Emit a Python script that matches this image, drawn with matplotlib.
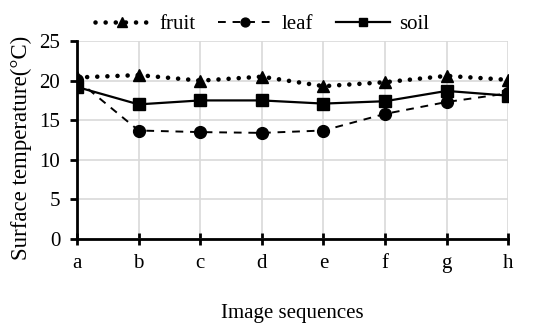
import matplotlib
matplotlib.use("Agg")
import matplotlib.pyplot as plt

categories = ["a", "b", "c", "d", "e", "f", "g", "h"]
fruit = [20.4, 20.7, 20.0, 20.5, 19.3, 19.8, 20.6, 20.1]
leaf = [20.1, 13.7, 13.5, 13.4, 13.7, 15.8, 17.3, 18.4]
soil = [19.2, 17.0, 17.5, 17.5, 17.1, 17.4, 18.7, 18.1]
yticks = [0, 5, 10, 15, 20, 25]

plt.rcParams['font.family'] = ['Liberation Serif', 'DejaVu Serif']
fig = plt.figure(figsize=(5.5, 3.31), dpi=100)
ax = fig.add_axes([0.14, 0.278, 0.784, 0.598])
x = list(range(len(categories)))
ax.plot(x, fruit, linestyle=':', color='black', lw=3.3, marker='^', ms=9, label='fruit',
        dashes=(0.01, 2.2), dash_capstyle='round', zorder=3)
ax.plot(x, leaf, linestyle='--', color='black', lw=1.4, marker='o', ms=8.5, label='leaf',
        dashes=(4, 3.5), zorder=3)
ax.plot(x, soil, linestyle='-', color='black', lw=1.6, marker='s', ms=8, label='soil', zorder=3)

ax.set_xlim(0, len(categories) - 1)
ax.set_ylim(0, 25)
ax.set_xticks(x)
ax.set_xticklabels(categories)
ax.set_yticks(yticks)
ax.grid(True, color='#d9d9d9', lw=1.2)
ax.set_axisbelow(True)
for s in ['top', 'right']:
    ax.spines[s].set_visible(False)
for s in ['left', 'bottom']:
    ax.spines[s].set_linewidth(2)
    ax.spines[s].set_zorder(4)
ax.tick_params(axis='x', direction='inout', length=8, width=2, labelsize=15, pad=7)
ax.tick_params(axis='y', direction='out', length=5, width=2, labelsize=15, pad=7)
ax.set_xlabel('Image sequences', fontsize=15, labelpad=22)
ax.set_ylabel('Surface temperature(°C)', fontsize=16.5)
ax.yaxis.set_label_coords(-0.105, 0.46)
ax.legend(loc='center', bbox_to_anchor=(0.43, 1.085), ncol=3, frameon=False,
          fontsize=15, handlelength=2.6, columnspacing=1.1, handletextpad=0.45,
          borderaxespad=0, markerscale=0.75)
fig.savefig('out.png', dpi=100)
